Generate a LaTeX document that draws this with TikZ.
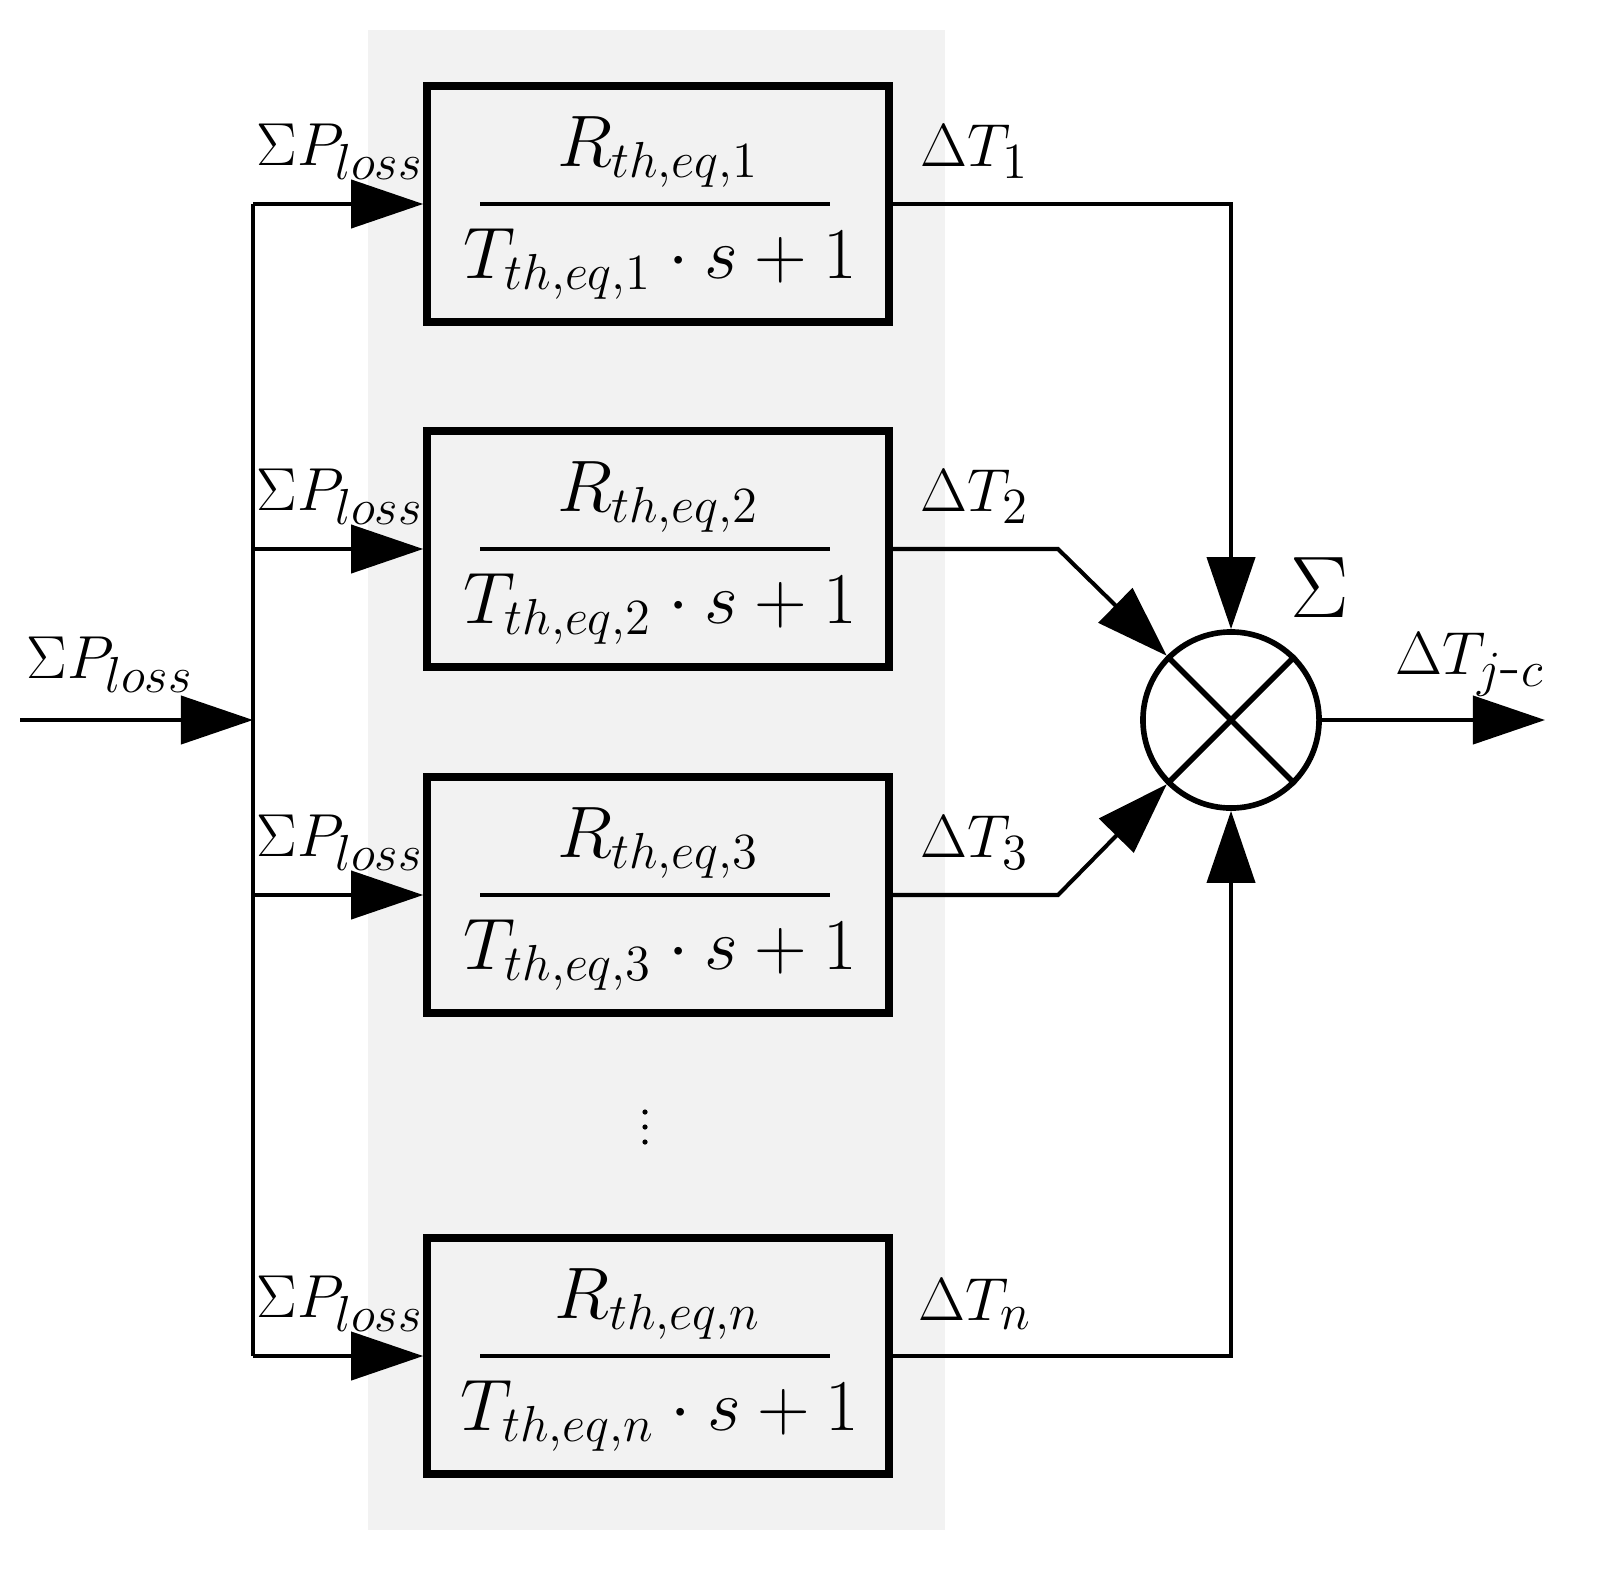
\documentclass[tikz,border=0pt]{standalone}
\usetikzlibrary{arrows.meta}
\begin{document}
\begin{tikzpicture}[x=0.01cm,y=-0.01cm,
  ln/.style={line width=1.15pt},
  ar/.style={ln,-{Triangle[length=0.72cm,width=0.48cm]}},
  blk/.style={draw,line width=2.1pt,fill=black!5,minimum width=4.62cm,minimum height=2.36cm,inner sep=0},
  lbl/.style={font=\fontsize{19}{22}\selectfont},
  frac/.style={font=\fontsize{21}{24}\selectfont}]
\useasboundingbox (0,0) rectangle (1607,1594);
\fill[black!5] (368,30) rectangle (945,1530);
\foreach \i/\y/\s in {1/204/1,2/549/2,3/895/3,4/1356/n}{
  \node[blk] (b\i) at (658,\y) {};
  \draw[ln] (480,\y) -- (830,\y);
  \node[frac] (r\i) at (658,\y-52) {$R_{th,eq,\s}$};
  \node[frac] (t\i) at (660,\y+60) {$T_{th,eq,\s}\cdot s+1$};
  \coordinate (j\i) at (253,\y);
  \draw[ar] (j\i) -- (b\i.west);
  \node[lbl] (p\i) at (340,\y-52) {$\Sigma P_{loss}$};
  \node[lbl] (d\i) at (975,\y-52) {$\Delta T_{\s}$};
}
\coordinate (jin) at (253,720);
\coordinate (in) at (20,720);
\draw[ln] (j1) -- (j4);
\draw[ar] (in) -- (jin);
\node[lbl] (pin) at (110,665) {$\Sigma P_{loss}$};
\node[draw,circle,line width=1.6pt,minimum size=1.76cm,inner sep=0] (s) at (1231,720) {};
\draw[line width=1.6pt] (s.45) -- (s.225) (s.135) -- (s.315);
\node[font=\fontsize{26}{30}\selectfont] (sig) at (1320,588) {$\Sigma$};
\coordinate (c2) at (1058,549);
\coordinate (c3) at (1058,895);
\draw[ar] (b1.east) -| (s.north);
\draw[ar] (b2.east) -- (c2) -- (s.135);
\draw[ar] (b3.east) -- (c3) -- (s.225);
\draw[ar] (b4.east) -| (s.south);
\coordinate (out) at (1545,720);
\draw[ar] (s.east) -- (out);
\node[lbl] (dout) at (1470,665) {$\Delta T_{j\mbox{-}c}$};
\foreach \yy in {1112,1127,1142} \fill (645,\yy) circle (2.6);
\end{tikzpicture}
\end{document}
